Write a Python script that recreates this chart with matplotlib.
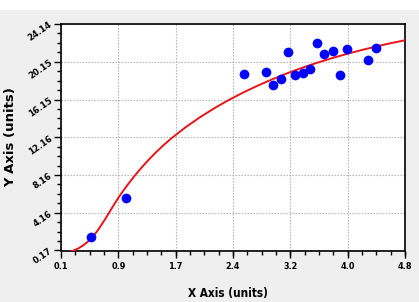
import numpy as np
import matplotlib
matplotlib.use('Agg')
import matplotlib.pyplot as plt
from matplotlib.ticker import AutoMinorLocator
from matplotlib.patches import Rectangle
from matplotlib import font_manager

# measured points
x_pts = [0.51, 0.99, 2.60, 2.90, 3.00, 3.10, 3.20, 3.30, 3.41, 3.50,
         3.60, 3.70, 3.81, 3.91, 4.01, 4.30, 4.40]
y_pts = [1.58, 5.72, 18.87, 19.05, 17.67, 18.34, 21.20, 18.73, 18.94, 19.33,
         22.08, 20.99, 21.23, 18.76, 21.52, 20.32, 21.63]

# fitted curve
x_fit = [0.20, 0.25, 0.30, 0.35, 0.40, 0.45, 0.50, 0.55, 0.60, 0.65, 0.70, 0.75,
         0.80, 0.85, 0.90, 0.95, 1.00, 1.10, 1.20, 1.30, 1.40, 1.50, 1.60, 1.80,
         2.00, 2.20, 2.40, 2.60, 2.80, 3.00, 3.20, 3.40, 3.60, 3.80, 4.00, 4.20,
         4.40, 4.60, 4.80]
y_fit = [0.00, 0.10, 0.25, 0.45, 0.70, 1.00, 1.35, 1.78, 2.28, 2.85, 3.45, 4.08,
         4.72, 5.34, 5.93, 6.49, 7.02, 8.02, 8.94, 9.79, 10.58, 11.31, 11.99, 13.20,
         14.28, 15.25, 16.13, 16.93, 17.66, 18.33, 18.95, 19.52, 20.04, 20.52, 20.96, 21.37,
         21.75, 22.10, 22.42]

xticks = [0.1, 0.8833, 1.6667, 2.45, 3.2333, 4.0167, 4.8]
xlabels = ['0.1', '0.9', '1.7', '2.4', '3.2', '4.0', '4.8']
yticks = [0.17, 4.165, 8.16, 12.155, 16.15, 20.145, 24.14]
ylabels = ['0.17', '4.16', '8.16', '12.16', '16.15', '20.15', '24.14']

names = {f.name for f in font_manager.fontManager.ttflist}
narrow = 'Liberation Sans Narrow' if 'Liberation Sans Narrow' in names else 'DejaVu Sans'

fig = plt.figure(figsize=(4.19, 3.02), dpi=100, facecolor='#efefef')
fig.patches.append(Rectangle((0, 1 - 10 / 302), 1, 10 / 302, transform=fig.transFigure,
                             facecolor='white', edgecolor='none', zorder=0))
ax = fig.add_axes([61 / 419, 1 - 250.5 / 302, 344 / 419, 226.5 / 302])
ax.set_facecolor('white')

ax.plot(x_fit, y_fit, color='#e8141a', lw=1.4, zorder=3, solid_capstyle='round',
        solid_joinstyle='round')
ax.plot(x_pts, y_pts, 'o', color='#0000ff', markersize=7, markeredgewidth=0, zorder=4)

ax.set_xlim(0.1, 4.8)
ax.set_ylim(0.17, 24.14)
ax.set_xticks(xticks)
ax.set_xticklabels(xlabels, family=narrow, fontweight='bold', fontsize=6.5,
                   fontstretch='condensed')
ax.set_yticks(yticks)
ax.set_yticklabels(ylabels, fontweight='bold', fontsize=6, rotation=35,
                   rotation_mode='anchor', ha='right', va='center')
ax.xaxis.set_minor_locator(AutoMinorLocator(4))
ax.yaxis.set_minor_locator(AutoMinorLocator(4))
ax.tick_params(which='major', direction='out', length=5, width=1, color='black', pad=3)
ax.tick_params(which='minor', direction='out', length=3, width=1, color='black')
ax.tick_params(axis='y', pad=2)

ax.grid(True, which='major', color='#aaaaaa', linestyle=(0, (1.2, 1.5)), lw=0.8)
ax.set_axisbelow(True)
for s in ax.spines.values():
    s.set_linewidth(1.2)
    s.set_color('black')

fig.text(228 / 419, 1 - 293 / 302, 'X Axis (units)', family=narrow, fontweight='bold',
         fontsize=8.5, fontstretch='condensed', ha='center', va='center')
fig.text(11 / 419, 1 - 137 / 302, 'Y Axis (units)', fontweight='bold', fontsize=9.5,
         rotation=90, ha='center', va='center')

fig.savefig('out.png', dpi=100, facecolor=fig.get_facecolor())
